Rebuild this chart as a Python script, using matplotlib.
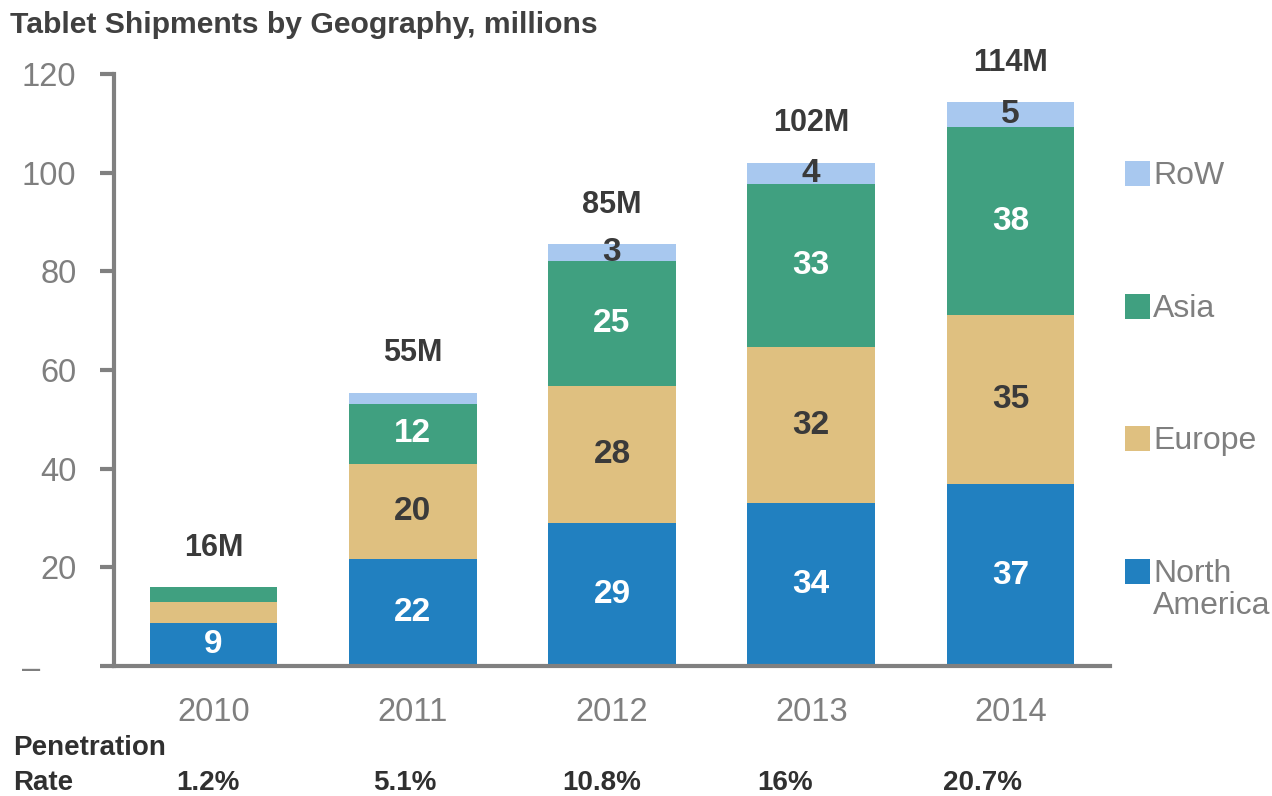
import matplotlib
matplotlib.use("Agg")
import matplotlib.pyplot as plt
from matplotlib.patches import Rectangle

plt.rcParams['font.family'] = ['Liberation Sans', 'DejaVu Sans']

years = ["2010", "2011", "2012", "2013", "2014"]
north_america = [8.7, 21.6, 28.9, 33.1, 36.8]
europe = [4.2, 19.4, 27.9, 31.5, 34.3]
asia = [3.1, 12.1, 25.2, 33.2, 38.2]
row = [0.0, 2.3, 3.5, 4.2, 5.0]

na_labels = ["9", "22", "29", "34", "37"]
eu_labels = ["", "20", "28", "32", "35"]
asia_labels = ["", "12", "25", "33", "38"]
row_labels = ["", "", "3", "4", "5"]
total_labels = ["16M", "55M", "85M", "102M", "114M"]
penetration = ["1.2%", "5.1%", "10.8%", "16%", "20.7%"]

series_names = ["North\nAmerica", "Europe", "Asia", "RoW"]
colors = ["#2180C0", "#DFC080", "#40A080", "#A8C8EF"]
text_colors = ["white", "#3a3a3a", "white", "#3a3a3a"]

yticks = [0, 20, 40, 60, 80, 100, 120]
ytick_labels = ["–    ", "20", "40", "60", "80", "100", "120"]

W, H = 1272, 796
fig = plt.figure(figsize=(W / 100, H / 100), dpi=100)
ax = fig.add_axes([114 / W, 1 - 666 / H, 996 / W, (666 - 74) / H])

x = list(range(len(years)))
series = [north_america, europe, asia, row]
labels = [na_labels, eu_labels, asia_labels, row_labels]
bottoms = [0.0] * len(years)
for vals, col, tcol, labs in zip(series, colors, text_colors, labels):
    ax.bar(x, vals, width=0.64, bottom=bottoms, color=col, edgecolor='none', zorder=2)
    for i, (v, b, lab) in enumerate(zip(vals, bottoms, labs)):
        if lab:
            ax.text(i, b + v / 2, lab, ha='center', va='center', color=tcol,
                    fontsize=24, fontweight='bold', zorder=3)
    bottoms = [b + v for b, v in zip(bottoms, vals)]

for i, (tot, lab) in enumerate(zip(bottoms, total_labels)):
    ax.text(i, tot + 8, lab, ha='center', va='center', color='#3a3a3a',
            fontsize=22, fontweight='bold', clip_on=False)

ax.set_xlim(-0.5, 4.5)
ax.set_ylim(0, 120)
ax.set_yticks(yticks)
ax.set_yticklabels(ytick_labels)
ax.set_xticks(x)
ax.set_xticklabels(years)
for s in ['top', 'right']:
    ax.spines[s].set_visible(False)
for s in ['left', 'bottom']:
    ax.spines[s].set_color('#808080')
    ax.spines[s].set_linewidth(3)
ax.tick_params(axis='y', direction='out', length=10, width=3, color='#808080',
               labelsize=23.5, labelcolor='#7f7f7f', pad=17)
ax.tick_params(axis='x', length=0, labelsize=23.5, labelcolor='#7f7f7f', pad=22)

# Title
fig.text(10 / W, 1 - 33 / H, "Tablet Shipments by Geography, millions",
         ha='left', va='baseline', fontsize=21.7, fontweight='bold', color='#404040')

# Penetration rate row
fig.text(13 / W, 1 - 748 / H, "Penetration", ha='left', va='center',
         fontsize=20, fontweight='bold', color='#303030')
fig.text(13 / W, 1 - 783 / H, "Rate", ha='left', va='center',
         fontsize=20, fontweight='bold', color='#303030')
rate_offsets = [-0.03, -0.04, -0.05, -0.13, -0.14]
for i, (p, off) in enumerate(zip(penetration, rate_offsets)):
    xf = (114 + (i + 0.5 + off) * 199.2) / W
    fig.text(xf, 1 - 783 / H, p, ha='center', va='center',
             fontsize=20, fontweight='bold', color='#303030')

# Legend (manual)
leg_y = [571, 438, 306, 173]
for name, col, yc in zip(series_names, colors, leg_y):
    fig.add_artist(Rectangle((1125 / W, 1 - (yc + 12.5) / H), 25 / W, 25 / H,
                             transform=fig.transFigure, facecolor=col, edgecolor='none'))
    fig.text(1153 / W, 1 - (yc - 12) / H, name, ha='left', va='top',
             fontsize=23, color='#7f7f7f', linespacing=1.1)

fig.savefig("out.png", dpi=100)
